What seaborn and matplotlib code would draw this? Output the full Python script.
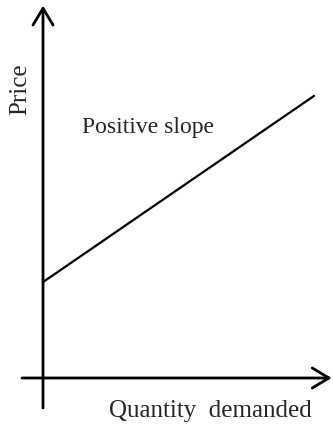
import matplotlib
matplotlib.use("Agg")
import matplotlib.pyplot as plt
import seaborn as sns
import pandas as pd

# supply curve: quantity vs price
quantity = [0, 10]
price = [3.4, 10]

sns.set_theme(style="white")
plt.rcParams["font.family"] = ["Liberation Serif", "DejaVu Serif"]

fig = plt.figure(figsize=(3.33, 4.24), dpi=100)
ax = fig.add_axes([0, 0, 1, 1])
ax.set_xlim(-1.587, 10.70)
ax.set_ylim(-1.631, 13.40)
ax.axis("off")

df = pd.DataFrame({"Quantity": quantity, "Price": price})
sns.lineplot(data=df, x="Quantity", y="Price", color="black", lw=1.6, ax=ax)

arrow = dict(arrowstyle="->,head_length=0.6,head_width=0.36", lw=2.0,
             color="black", mutation_scale=20, shrinkA=0, shrinkB=0)
ax.annotate("", xy=(0, 13.2), xytext=(0, -1.064), arrowprops=arrow)
ax.annotate("", xy=(10.65, 0), xytext=(-0.775, 0), arrowprops=arrow)

ax.text(26.5 / 333, 1 - 89 / 424, "Price", rotation=90, rotation_mode="anchor",
        ha="center", va="baseline", fontsize=18, transform=ax.transAxes)
ax.text(82 / 333, 0.687, "Positive slope", ha="left", va="baseline",
        fontsize=17, transform=ax.transAxes)
ax.text(210 / 333, 0.0172, "Quantity  demanded", ha="center", va="baseline",
        fontsize=18, transform=ax.transAxes)

fig.savefig("out.png", dpi=100)
